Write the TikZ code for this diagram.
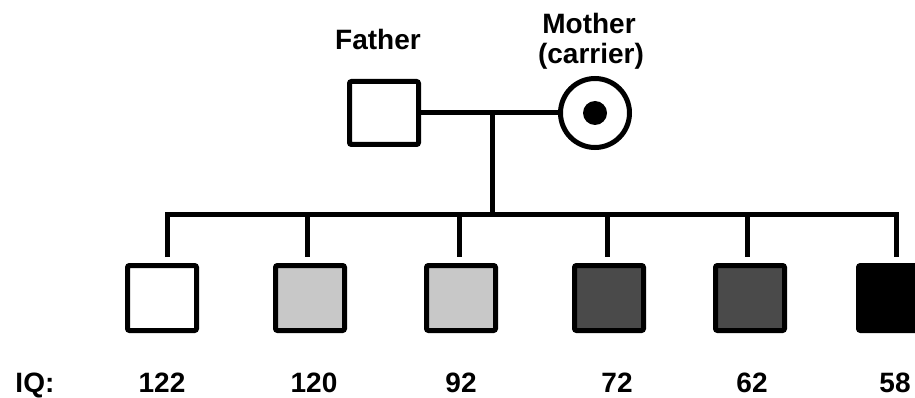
\documentclass[tikz,border=0pt]{standalone}
\usepackage{fontspec}
\setmainfont{Liberation Sans}
\begin{document}
\begin{tikzpicture}[x=1pt,y=-1pt,
  line width=5pt,
  male/.style={draw=black, rectangle, rounded corners=2pt, minimum width=69pt, minimum height=65pt, inner sep=0pt},
  female/.style={draw=black, circle, minimum size=69pt, inner sep=0pt},
  label text/.style={font=\fontsize{28}{31}\selectfont\bfseries, inner sep=0pt, anchor=base},
  drop/.style={line cap=butt}
]
\useasboundingbox (0,0) rectangle (915,398);
\definecolor{lightshade}{HTML}{C8C8C8}
\definecolor{darkshade}{HTML}{4A4A4A}

% parents
\node[male, fill=white, minimum height=63pt] (father) at (384,113) {};
\node[female, fill=white] (mother) at (595,113) {};
\fill (mother.center) circle (12pt);
\node[label text] (flabel) at (378,50) {Father};
\node[label text] (mlabel) at (589,34) {Mother};
\node[label text] (clabel) at (591,64) {(carrier)};

% children
\node[male, fill=white]       (c1) at (162,298) {};
\node[male, fill=lightshade]  (c2) at (310,298) {};
\node[male, fill=lightshade]  (c3) at (461,298) {};
\node[male, fill=darkshade]   (c4) at (609,298) {};
\node[male, fill=darkshade]   (c5) at (750,298) {};
\node[male, fill=black]       (c6) at (893,298) {};

% marriage and sibship lines
\coordinate (m) at (492,113);
\coordinate (s) at (492,214);
\coordinate (s1) at (167,214);
\coordinate (s2) at (307,214);
\coordinate (s3) at (459,214);
\coordinate (s4) at (607,214);
\coordinate (s5) at (747,214);
\coordinate (s6) at (896,214);
\draw (father.east) -- (mother.west);
\draw (m) -- (s);
\draw[line join=miter] ([yshift=6pt]s1 |- c1.north) -- (s1) -- (s6) -- ([yshift=6pt]s6 |- c6.north);
\foreach \i in {2,...,5}
  \draw[drop] (s\i) -- ([yshift=6pt]s\i |- c\i.north);

% IQ scores
\node[label text, anchor=base west] (iq) at (13,392) {IQ:};
\node[label text] (q1) at (162,392) {122};
\node[label text] (q2) at (314,392) {120};
\node[label text] (q3) at (461,392) {92};
\node[label text] (q4) at (617,392) {72};
\node[label text] (q5) at (752,392) {62};
\node[label text] (q6) at (895,392) {58};
\end{tikzpicture}
\end{document}
